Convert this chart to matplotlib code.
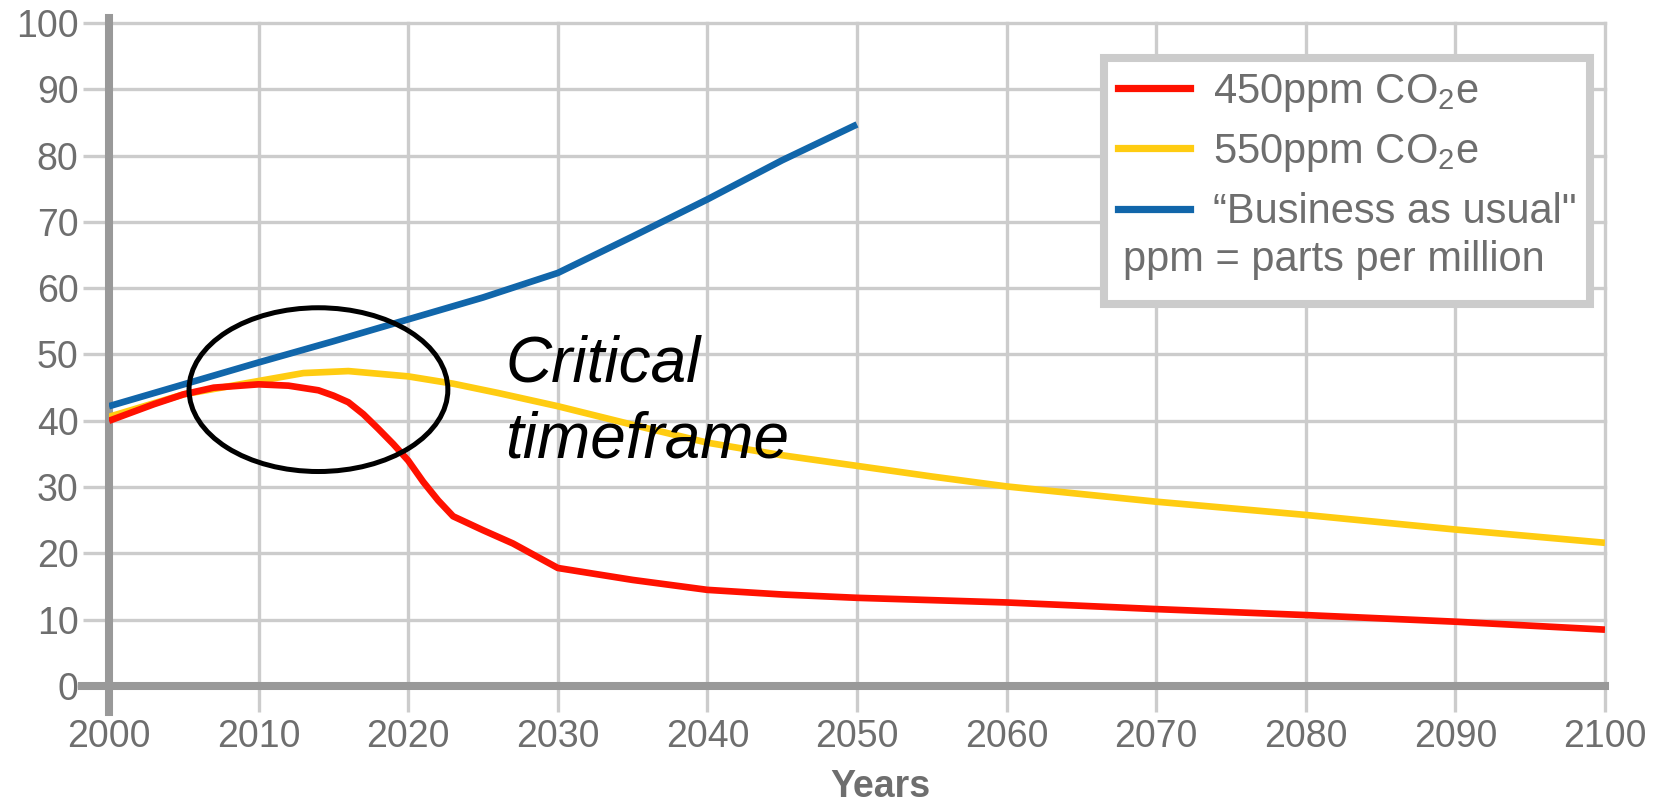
import matplotlib
matplotlib.use("Agg")
import matplotlib.pyplot as plt
from matplotlib.patches import Ellipse
from matplotlib.lines import Line2D

plt.rcParams['font.family'] = ['Liberation Sans', 'DejaVu Sans']
plt.rcParams['mathtext.default'] = 'regular'

# values
years_450 = [2000, 2003, 2005, 2007, 2010, 2012, 2014, 2015, 2016, 2017, 2018, 2019,
             2020, 2021, 2022, 2023, 2025, 2027, 2030, 2035, 2040, 2045, 2050,
             2060, 2070, 2080, 2090, 2100]
vals_450 = [40.0, 42.5, 44.0, 45.0, 45.5, 45.3, 44.6, 43.8, 42.8, 41.0, 38.8, 36.5,
            34.0, 30.8, 28.0, 25.6, 23.5, 21.5, 17.8, 16.0, 14.5, 13.8, 13.3,
            12.6, 11.6, 10.7, 9.7, 8.5]

years_550 = [2000, 2005, 2010, 2013, 2016, 2020, 2023, 2026, 2030, 2035, 2040,
             2045, 2050, 2055, 2060, 2070, 2080, 2090, 2100]
vals_550 = [40.6, 44.0, 46.0, 47.2, 47.5, 46.7, 45.6, 44.2, 42.2, 39.4, 36.7,
            34.8, 33.2, 31.6, 30.1, 27.8, 25.8, 23.6, 21.6]

years_bau = [2000, 2005, 2010, 2015, 2020, 2025, 2030, 2035, 2040, 2045, 2050]
vals_bau = [42.2, 45.5, 48.8, 52.0, 55.3, 58.6, 62.3, 67.8, 73.4, 79.3, 84.7]

x_ticks = list(range(2000, 2101, 10))
y_ticks = list(range(0, 101, 10))

red = '#ff1100'
yellow = '#ffcc11'
blue = '#1166aa'
label_gray = '#6e6e6e'
grid_gray = '#cccccc'
axis_gray = '#999999'

fig = plt.figure(figsize=(16.53, 8.05), dpi=100)
W, H = 1653, 805
ax = fig.add_axes([109 / W, 1 - 686 / H, (1605 - 109) / W, (686 - 23) / H])

ax.set_xlim(2000, 2100)
ax.set_ylim(0, 100)
ax.set_xticks(x_ticks)
ax.set_yticks(y_ticks)

ax.grid(True, color=grid_gray, lw=2.4)
ax.set_axisbelow(True)
for gl in ax.get_xgridlines() + ax.get_ygridlines():
    gl.set_clip_on(False)

ax.tick_params(axis='both', length=19, width=2.4, color=grid_gray,
               labelcolor=label_gray, labelsize=27)
ax.tick_params(axis='y', pad=3)
ax.tick_params(axis='x', pad=5)

for side in ['top', 'right']:
    ax.spines[side].set_visible(False)
ax.spines['left'].set_color(axis_gray)
ax.spines['left'].set_linewidth(5.8)
ax.spines['left'].set_bounds(-3.9, 100.8)
ax.spines['bottom'].set_color(axis_gray)
ax.spines['bottom'].set_linewidth(5.8)
ax.spines['bottom'].set_bounds(1998.2, 2100)

lw = 4.8
ax.plot(years_550, vals_550, color=yellow, lw=lw, solid_capstyle='butt', zorder=3)
ax.plot(years_450, vals_450, color=red, lw=lw, solid_capstyle='butt', zorder=4)
ax.plot(years_bau, vals_bau, color=blue, lw=lw, solid_capstyle='butt', zorder=5)

ax.set_xlabel('Years', fontsize=27, fontweight='bold', color=label_gray)
ax.xaxis.set_label_coords((880 - 109) / 1496, -0.125)

# the circled "critical timeframe"
ax.add_patch(Ellipse((2014.0, 44.7), width=17.3, height=24.7, fill=False,
                     ec='black', lw=3.6, zorder=6))
ax.text(2026.5, 46.0, 'Critical', fontsize=46, style='italic', color='black',
        va='baseline', ha='left', zorder=7)
ax.text(2026.5, 34.4, 'timeframe', fontsize=46, style='italic', color='black',
        va='baseline', ha='left', zorder=7)

handles = [Line2D([], [], color=red, lw=5.2),
           Line2D([], [], color=yellow, lw=5.2),
           Line2D([], [], color=blue, lw=5.2),
           Line2D([], [], alpha=0)]
labels = ['450ppm CO$_2$e', '550ppm CO$_2$e', '\u201cBusiness as usual"', ' ']
leg = ax.legend(handles, labels, loc='upper right',
                bbox_to_anchor=(1590 / W, 1 - 58 / H), bbox_transform=fig.transFigure,
                borderaxespad=0, fontsize=30, handlelength=1.72, handletextpad=0.55,
                borderpad=0.33, labelspacing=0.44, fancybox=False, framealpha=1,
                edgecolor=grid_gray)
leg.get_frame().set_linewidth(5.8)
leg.set_zorder(8)
for t in leg.get_texts():
    t.set_color(label_gray)
fig.text(1123 / W, 1 - 271 / H, 'ppm = parts per million', fontsize=30,
         color=label_gray, va='baseline', ha='left', zorder=9)

fig.savefig('out.png', dpi=100)
